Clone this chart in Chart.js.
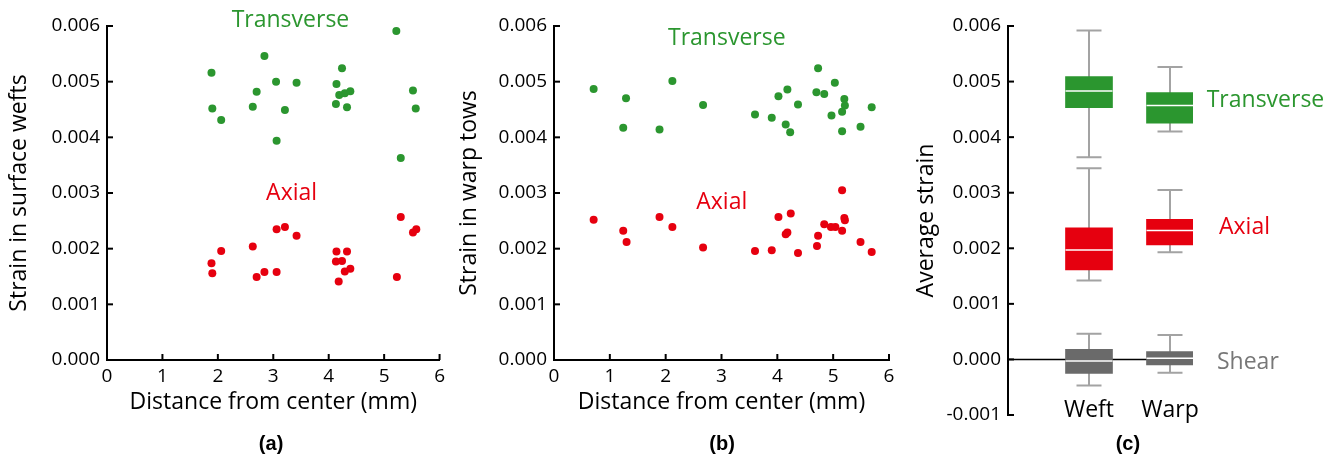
<!DOCTYPE html>
<html>
<head>
<meta charset="utf-8">
<script src="https://cdn.jsdelivr.net/npm/chart.js@4.4.0/dist/chart.umd.min.js"></script>
<style>
  body { margin: 0; background: #fff; }
  .panel { position: absolute; top: 0; height: 460px; }
</style>
</head>
<body>
<div class="panel" style="left:0;width:450px"><canvas id="weftChart"></canvas></div>
<div class="panel" style="left:450px;width:450px"><canvas id="warpChart"></canvas></div>
<div class="panel" style="left:900px;width:438px"><canvas id="avgChart"></canvas></div>
<script>
// (a) surface wefts
const weftTransX = [5.22, 2.84, 1.885, 4.24, 3.05, 3.42, 4.14, 2.70, 4.19, 4.29, 4.39, 5.52, 1.90, 2.63, 3.21, 4.13, 4.33, 5.57, 2.06, 3.06, 5.30];
const weftTransY = [0.00591, 0.00546, 0.00516, 0.00524, 0.00500, 0.00498, 0.00496, 0.00482, 0.00476, 0.00479, 0.00483, 0.00484, 0.00452, 0.00455, 0.00449, 0.00460, 0.00454, 0.00452, 0.00431, 0.00394, 0.00363];
const weftAxialX = [5.30, 3.06, 3.21, 3.42, 5.52, 5.58, 2.63, 2.06, 4.14, 4.33, 1.885, 1.90, 4.13, 4.24, 4.29, 4.39, 4.18, 2.70, 2.84, 3.06, 5.23];
const weftAxialY = [0.00257, 0.00235, 0.00239, 0.00223, 0.00229, 0.00235, 0.00204, 0.00196, 0.00195, 0.00195, 0.00174, 0.00156, 0.00177, 0.00178, 0.00159, 0.00164, 0.00141, 0.00149, 0.00158, 0.00158, 0.00149];

// (b) warp tows
const warpTransX = [0.71, 1.29, 1.24, 1.89, 2.12, 2.67, 3.60, 3.90, 4.02, 4.18, 4.15, 4.23, 4.37, 4.73, 4.70, 4.84, 5.03, 5.20, 5.21, 5.16, 4.97, 5.16, 5.49, 5.69];
const warpTransY = [0.00487, 0.00470, 0.00417, 0.00414, 0.00501, 0.00458, 0.00441, 0.00435, 0.00474, 0.00486, 0.00423, 0.00409, 0.00459, 0.00524, 0.00481, 0.00478, 0.00498, 0.00469, 0.00457, 0.00446, 0.00439, 0.00411, 0.00419, 0.00454];
const warpAxialX = [5.16, 0.71, 1.24, 1.30, 1.89, 2.12, 2.67, 3.60, 3.90, 4.02, 4.24, 4.15, 4.18, 4.37, 4.71, 4.73, 4.84, 4.96, 5.04, 5.20, 5.21, 5.16, 5.49, 5.69];
const warpAxialY = [0.00305, 0.00252, 0.00232, 0.00212, 0.00257, 0.00239, 0.00202, 0.00196, 0.00197, 0.00257, 0.00263, 0.00226, 0.00229, 0.00192, 0.00205, 0.00223, 0.00244, 0.00239, 0.00239, 0.00255, 0.00251, 0.00232, 0.00212, 0.00194];

// (c) box stats per group: [min, q1, median, q3, max] for Weft, Warp
const boxCategories = ['Weft', 'Warp'];
const boxTransverse = [[0.00364, 0.00453, 0.00483, 0.00509, 0.00592], [0.00410, 0.00425, 0.00457, 0.00480, 0.00526]];
const boxAxial = [[0.00142, 0.00161, 0.00197, 0.00237, 0.00344], [0.00193, 0.00206, 0.00232, 0.00252, 0.00305]];
const boxShear = [[-0.00047, -0.00025, -0.00003, 0.00018, 0.00046], [-0.00024, -0.00010, 0.00002, 0.00014, 0.00044]];

const green = '#2b962f';
const red = '#e6000f';
const gray = '#6a6a6a';

Chart.defaults.font.family = "'Open Sans', sans-serif";
Chart.defaults.color = '#111';
Chart.defaults.animation = false;

const pts = (xs, ys) => xs.map((x, i) => ({ x: x, y: ys[i] }));

// tick marks pointing into the plot
const innerTicks = {
  id: 'innerTicks',
  afterDraw(chart, args, opts) {
    const ctx = chart.ctx;
    ctx.save();
    ctx.strokeStyle = '#000';
    ctx.lineWidth = 2;
    (opts.axes || []).forEach(id => {
      const s = chart.scales[id];
      s.ticks.forEach(t => {
        const p = s.getPixelForValue(t.value);
        ctx.beginPath();
        if (s.isHorizontal()) { ctx.moveTo(p, s.top); ctx.lineTo(p, s.top - 6); }
        else { ctx.moveTo(s.right, p); ctx.lineTo(s.right + 6, p); }
        ctx.stroke();
      });
    });
    ctx.restore();
  }
};

// series labels, category labels and panel tag
const notes = {
  id: 'notes',
  afterDraw(chart, args, opts) {
    const ctx = chart.ctx;
    const { x, y } = chart.scales;
    ctx.save();
    ctx.textBaseline = 'alphabetic';
    ctx.font = "23px 'Open Sans'";
    (opts.items || []).forEach(n => {
      ctx.fillStyle = n.color;
      ctx.textAlign = n.align || 'center';
      ctx.fillText(n.text, x.getPixelForValue(n.x), y.getPixelForValue(n.y));
    });
    if (opts.categories) {
      ctx.fillStyle = '#000';
      ctx.textAlign = 'center';
      opts.categories.forEach((c, i) => ctx.fillText(c, x.getPixelForValue(i + 1), 417));
    }
    if (opts.tag) {
      ctx.font = "bold 20px 'Liberation Sans'";
      ctx.fillStyle = '#000';
      ctx.textAlign = 'center';
      ctx.fillText(opts.tag, x.getPixelForValue(opts.tagX), 450);
    }
    ctx.restore();
  }
};

function scatterOptions(yTitle, notesOpts) {
  return {
    responsive: true,
    maintainAspectRatio: false,
    layout: { padding: { top: 26, right: notesOpts.right, bottom: 0, left: 0 } },
    plugins: {
      legend: { display: false },
      tooltip: { enabled: false },
      innerTicks: { axes: ['x', 'y'] },
      notes: notesOpts
    },
    scales: {
      x: {
        type: 'linear', min: 0, max: 6,
        afterFit: s => { s.height = 100; },
        grid: { display: false, drawTicks: false },
        border: { color: '#000', width: 2 },
        ticks: { stepSize: 1, padding: 5, color: '#000', font: { size: 19 } },
        title: { display: true, text: 'Distance from center (mm)', color: '#000', font: { size: 23 }, padding: { top: 0, bottom: 44 } }
      },
      y: {
        min: 0, max: 0.006,
        afterFit: s => { s.width = notesOpts.axisW; },
        grid: { display: false, drawTicks: false },
        border: { color: '#000', width: 2 },
        ticks: { stepSize: 0.001, padding: 7, color: '#000', font: { size: 19 }, callback: v => v.toFixed(3) },
        title: { display: true, text: yTitle, color: '#000', font: { size: 23 }, padding: { top: 6, bottom: 0 } }
      }
    }
  };
}

new Chart(document.getElementById('weftChart'), {
  type: 'scatter',
  data: {
    datasets: [
      { label: 'Transverse', data: pts(weftTransX, weftTransY), backgroundColor: green, pointRadius: 4, pointBorderWidth: 0 },
      { label: 'Axial', data: pts(weftAxialX, weftAxialY), backgroundColor: red, pointRadius: 4, pointBorderWidth: 0 }
    ]
  },
  options: scatterOptions('Strain in surface wefts', {
    right: 9, axisW: 107,
    items: [
      { text: 'Transverse', color: green, x: 3.31, y: 0.00598 },
      { text: 'Axial', color: red, x: 3.33, y: 0.00287 }
    ],
    tag: '(a)', tagX: 2.96
  }),
  plugins: [innerTicks, notes]
});

new Chart(document.getElementById('warpChart'), {
  type: 'scatter',
  data: {
    datasets: [
      { label: 'Transverse', data: pts(warpTransX, warpTransY), backgroundColor: green, pointRadius: 4, pointBorderWidth: 0 },
      { label: 'Axial', data: pts(warpAxialX, warpAxialY), backgroundColor: red, pointRadius: 4, pointBorderWidth: 0 }
    ]
  },
  options: scatterOptions('Strain in warp tows', {
    right: 11, axisW: 104,
    items: [
      { text: 'Transverse', color: green, x: 3.095, y: 0.00565 },
      { text: 'Axial', color: red, x: 3.005, y: 0.00272 }
    ],
    tag: '(b)', tagX: 3.01
  }),
  plugins: [innerTicks, notes]
});

// zero line and whiskers behind the boxes, medians on top
const boxGroups = [boxTransverse, boxAxial, boxShear];
const whiskers = {
  id: 'whiskers',
  beforeDatasetsDraw(chart) {
    const ctx = chart.ctx;
    const { x, y } = chart.scales;
    const area = chart.chartArea;
    ctx.save();
    ctx.strokeStyle = '#000';
    ctx.lineWidth = 1.5;
    ctx.beginPath();
    ctx.moveTo(area.left, y.getPixelForValue(0));
    ctx.lineTo(area.right, y.getPixelForValue(0));
    ctx.stroke();
    ctx.strokeStyle = '#a3a3a3';
    ctx.lineWidth = 2;
    boxGroups.forEach(g => g.forEach((st, i) => {
      const px = x.getPixelForValue(i + 1);
      const lo = y.getPixelForValue(st[0]);
      const hi = y.getPixelForValue(st[4]);
      ctx.beginPath();
      ctx.moveTo(px, lo); ctx.lineTo(px, hi);
      ctx.moveTo(px - 12.5, lo); ctx.lineTo(px + 12.5, lo);
      ctx.moveTo(px - 12.5, hi); ctx.lineTo(px + 12.5, hi);
      ctx.stroke();
    }));
    ctx.restore();
  },
  afterDatasetsDraw(chart) {
    const ctx = chart.ctx;
    const { x, y } = chart.scales;
    ctx.save();
    ctx.strokeStyle = '#fff';
    ctx.lineWidth = 1.5;
    boxGroups.forEach(g => g.forEach((st, i) => {
      const px = x.getPixelForValue(i + 1);
      const m = y.getPixelForValue(st[2]);
      ctx.beginPath();
      ctx.moveTo(px - 23.5, m); ctx.lineTo(px + 23.5, m);
      ctx.stroke();
    }));
    ctx.restore();
  }
};

const boxData = g => g.map((st, i) => ({ x: i + 1, y: [st[1], st[3]] }));

new Chart(document.getElementById('avgChart'), {
  type: 'bar',
  data: {
    datasets: [
      { label: 'Transverse', data: boxData(boxTransverse), backgroundColor: green },
      { label: 'Axial', data: boxData(boxAxial), backgroundColor: red },
      { label: 'Shear', data: boxData(boxShear), backgroundColor: gray }
    ]
  },
  options: {
    responsive: true,
    maintainAspectRatio: false,
    layout: { padding: { top: 26, right: 145, bottom: 0, left: 0 } },
    datasets: { bar: { grouped: false, barThickness: 47, borderWidth: 0 } },
    plugins: {
      legend: { display: false },
      tooltip: { enabled: false },
      innerTicks: { axes: ['y'] },
      notes: {
        items: [
          { text: 'Transverse', color: green, x: 2.453, y: 0.00455, align: 'left' },
          { text: 'Axial', color: red, x: 2.605, y: 0.00225, align: 'left' },
          { text: 'Shear', color: '#777', x: 2.58, y: -0.000167, align: 'left' }
        ],
        categories: boxCategories,
        tag: '(c)', tagX: 1.48
      }
    },
    scales: {
      x: {
        type: 'linear', min: 0, max: 2.284, offset: false,
        afterFit: s => { s.height = 45; },
        grid: { display: false, drawTicks: false },
        border: { display: false },
        ticks: { display: false }
      },
      y: {
        min: -0.001, max: 0.006,
        afterFit: s => { s.width = 108; },
        grid: { display: false, drawTicks: false },
        border: { color: '#000', width: 2 },
        ticks: { stepSize: 0.001, padding: 7, color: '#000', font: { size: 19 }, callback: v => v.toFixed(3) },
        title: { display: true, text: 'Average strain', color: '#000', font: { size: 23 }, padding: { top: 13, bottom: 0 } }
      }
    }
  },
  plugins: [innerTicks, notes, whiskers]
});
</script>
</body>
</html>
